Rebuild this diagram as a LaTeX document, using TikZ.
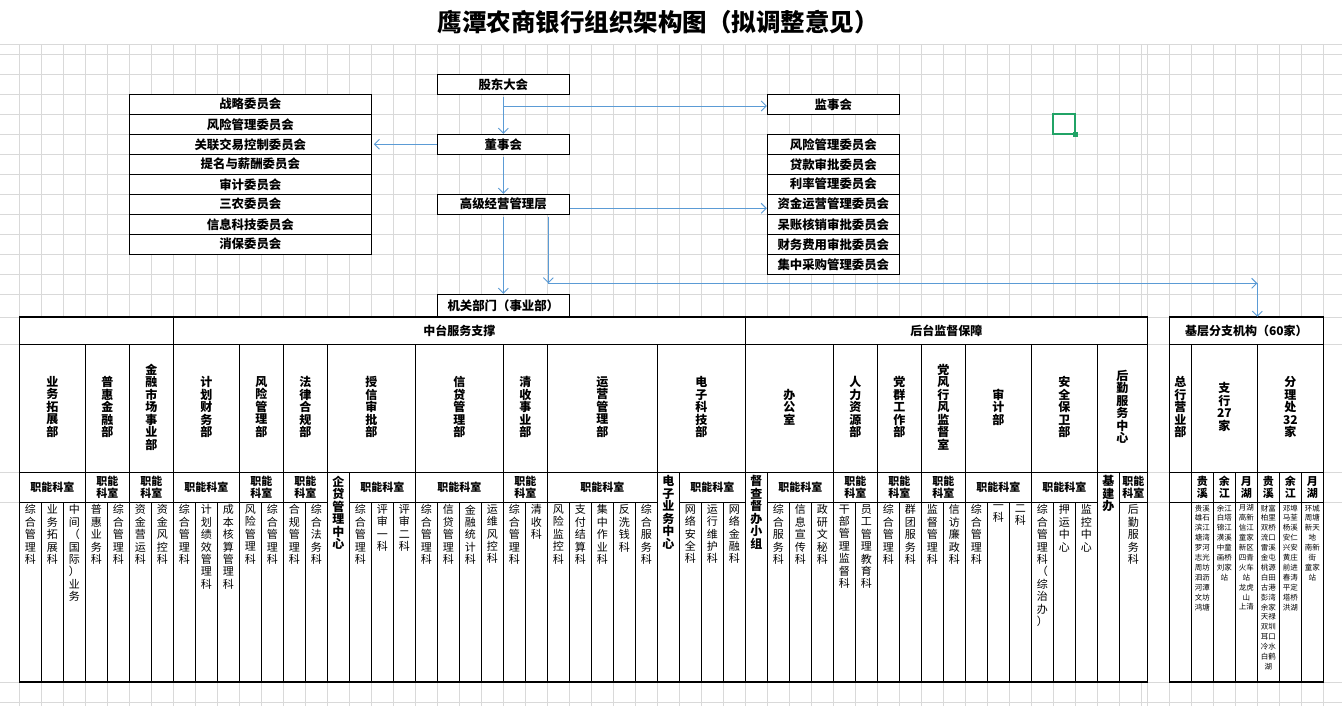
\documentclass[tikz,border=0pt]{standalone}
\usepackage{fontspec}
\setmainfont{Noto Sans CJK SC}
\usetikzlibrary{arrows.meta}
\definecolor{gridc}{HTML}{D9D9D9}
\definecolor{arrowblue}{HTML}{5B9BD5}
\definecolor{xlgreen}{HTML}{21A366}
\def\vtstopmark{\vtend}
\def\vtA#1{\def\vttmp{#1}\ifx\vttmp\vtstopmark\else#1\expandafter\vtB\fi}
\def\vtB#1{\def\vttmp{#1}\ifx\vttmp\vtstopmark\else\\#1\expandafter\vtB\fi}
\newcommand\vt[1]{\vtA#1\vtend}
\newcommand\vtx[1]{\expandafter\vtA#1\vtend}
\tikzset{
 boxst/.style={draw=black,line width=1pt,fill=white,inner sep=0pt,font=\bfseries\fontsize{12.4}{14}\selectfont},
 arr/.style={draw=arrowblue,line width=0.9pt,-{Straight Barb[length=5pt,width=10pt]}},
 tl/.style={draw=black,line width=1.1pt},
 gl/.style={draw=gridc,line width=0.8pt},
 dept/.style={align=center,inner sep=0pt,font=\bfseries\fontsize{12}{12.5}\selectfont},
 fn/.style={align=center,inner sep=0pt,font=\bfseries\fontsize{11}{12}\selectfont},
 sec/.style={align=center,inner sep=0pt,anchor=north,font=\fontsize{11}{12.4}\selectfont},
 brsmall/.style={align=center,inner sep=0pt,anchor=north,font=\fontsize{7.5}{9.9}\selectfont},
 hdr/.style={inner sep=0pt,font=\bfseries\fontsize{12}{14}\selectfont},
}
\begin{document}
\begin{tikzpicture}[x=1pt,y=-1pt]
\useasboundingbox (0,0) rectangle (1342,706);
\fill[white] (0,0) rectangle (1342,706);
% ---------- spreadsheet grid ----------
\foreach \k in {0,...,52} \draw[gl] ({-2.7+22*\k},44.3) -- ({-2.7+22*\k},706);
\draw[gl] (1147.3,44.3) -- (1147.3,706);
\foreach \k in {0,...,8} \draw[gl] ({1169.3+22*\k},44.3) -- ({1169.3+22*\k},706);
\foreach \y in {44.3,54.3,317,344.3,472.7,502.3,682,702} \draw[gl] (0,\y) -- (1342,\y);
\foreach \k in {0,...,11} \draw[gl] (0,{74.3+20*\k}) -- (1342,{74.3+20*\k});
% ---------- title ----------
\node[font=\bfseries\fontsize{24.5}{27}\selectfont] (title) at (658,22) {鹰潭农商银行组织架构图（拟调整意见）};
% ---------- excel selection ----------
\draw[xlgreen,line width=2pt] (1053.3,114.3) rectangle (1075.3,134.3);
\fill[xlgreen] (1072.8,131.8) rectangle (1077.8,136.8);
% ---------- flow boxes ----------
\node[boxst,minimum width=132pt,minimum height=20pt] (gd) at (503.3,84.3) {股东大会};
\node[boxst,minimum width=132pt,minimum height=20pt] (ds) at (503.3,144.3) {董事会};
\node[boxst,minimum width=132pt,minimum height=20pt] (gj) at (503.3,204.3) {高级经营管理层};
\node[boxst,minimum width=132pt,minimum height=22.7pt] (jg) at (503.3,305.65) {机关部门（事业部）};
\node[boxst,minimum width=132pt,minimum height=20pt] (js) at (833.3,104.3) {监事会};
\foreach \t [count=\i from 0] in {战略委员会,风险管理委员会,关联交易控制委员会,提名与薪酬委员会,审计委员会,三农委员会,信息科技委员会,消保委员会}
  \node[boxst,minimum width=242pt,minimum height=20pt] (lc\i) at (250.3,{104.3+20*\i}) {\t};
\foreach \t [count=\i from 0] in {风险管理委员会,贷款审批委员会,利率管理委员会,资金运营管理委员会,呆账核销审批委员会,财务费用审批委员会,集中采购管理委员会}
  \node[boxst,minimum width=132pt,minimum height=20pt] (rc\i) at (833.3,{144.3+20*\i}) {\t};
% ---------- main table ----------
\fill[white] (19.3,317) rectangle (1147.3,682);
\fill[white] (1169.3,317) rectangle (1323.3,682);
\draw[tl] (19.3,317) rectangle (1147.3,682);
\draw[tl] (19.3,344.3) -- (1147.3,344.3);
\draw[tl] (19.3,472.7) -- (1147.3,472.7);
\draw[tl] (19.3,502.3) -- (327.3,502.3) (349.3,502.3) -- (657.3,502.3) (679.3,502.3) -- (745.3,502.3) (767.3,502.3) -- (1097.3,502.3) (1119.3,502.3) -- (1147.3,502.3);
\draw[tl] (173.3,317) -- (173.3,344.3) (745.3,317) -- (745.3,344.3);
\foreach \x in {85.3,129.3,173.3,239.3,283.3,327.3,415.3,503.3,547.3,657.3,745.3,833.3,877.3,921.3,965.3,1031.3,1097.3}
  \draw[tl] (\x,344.3) -- (\x,682);
\foreach \x in {349.3,679.3,767.3,1119.3} \draw[tl] (\x,472.7) -- (\x,682);
\foreach \k in {1,...,50} \draw[tl] ({19.3+22*\k},502.3) -- ({19.3+22*\k},682);
% headers
\node[hdr] (mid) at (459.3,330.7) {中台服务支撑};
\node[hdr] (back) at (946.3,330.7) {后台监督保障};
% department names
\foreach \x/\t in {52.3/业务拓展部,107.3/普惠金融部,151.3/金融市场事业部,206.3/计划财务部,261.3/风险管理部,305.3/法律合规部,371.3/授信审批部,459.3/信贷管理部,525.3/清收事业部,602.3/运营管理部,701.3/电子科技部,789.3/办公室,855.3/人力资源部,899.3/党群工作部,943.3/党风行风监督室,998.3/审计部,1064.3/安全保卫部,1122.3/后勤服务中心}
  \node[dept] at (\x,407) {\vtx{\t}};
% 职能科室 row
\foreach \x in {52.3,206.3,382.3,459.3,602.3,712.3,800.3,998.3,1064.3}
  \node[fn] at (\x,487.5) {职能科室};
\foreach \x in {107.3,151.3,261.3,305.3,525.3,855.3,899.3,943.3,1133.3}
  \node[fn] at (\x,487.5) {职能\\科室};
\foreach \x/\t in {338.3/企贷管理中心,668.3/电子业务中心,756.3/督查督办小组,1108.3/基建办}
  \node[dept,anchor=north] at (\x,475.5) {\vtx{\t}};
% sections
\foreach \c/\t in {0/综合管理科,1/业务拓展科,2/中间（国际）业务,3/普惠业务科,4/综合管理科,5/资金营运科,6/资金风控科,7/综合管理科,8/计划绩效管理科,9/成本核算管理科,10/风险管理科,11/综合管理科,12/合规管理科,13/综合法务科,15/综合管理科,16/评审一科,17/评审二科,18/综合管理科,19/信贷管理科,20/金融统计科,21/运维风控科,22/综合管理科,23/清收科,24/风险监控科,25/支付结算科,26/集中作业科,27/反洗钱科,28/综合服务科,30/网络安全科,31/运行维护科,32/网络金融科,34/综合服务科,35/信息宣传科,36/政研文秘科,37/干部管理监督科,38/员工管理教育科,39/综合管理科,40/群团服务科,41/监督管理科,42/信访廉政科,43/综合管理科,44/一科,45/二科,46/综合管理科（综治办）,47/押运中心,48/监控中心}
  \node[sec] at ({30.3+22*\c},504.5) {\vtx{\t}};
\node[sec] at (1133.3,504.5) {\vt{后勤服务科}};
% ---------- branch table ----------
\draw[tl] (1169.3,317) rectangle (1323.3,682);
\draw[tl] (1169.3,344.3) -- (1323.3,344.3) (1169.3,472.7) -- (1323.3,472.7) (1169.3,502.3) -- (1323.3,502.3);
\foreach \x in {1191.3,1257.3} \draw[tl] (\x,344.3) -- (\x,682);
\foreach \x in {1213.3,1235.3,1279.3,1301.3} \draw[tl] (\x,472.7) -- (\x,682);
\node[hdr,minimum width=154pt,minimum height=27.3pt] (base) at (1246.3,330.65) {基层分支机构（60家）};
\node[dept] at (1180.3,407) {\vt{总行营业部}};
\node[dept] at (1224.3,407) {\vt{支行{27}家}};
\node[dept] at (1290.3,407) {\vt{分理处{32}家}};
\foreach \x/\t in {1202.3/贵溪,1224.3/余江,1246.3/月湖,1268.3/贵溪,1290.3/余江,1312.3/月湖}
  \node[fn] at (\x,487.5) {\vtx{\t}};
\node[brsmall] at (1202.3,504.5) {贵溪\\雄石\\滨江\\塘湾\\罗河\\志光\\周坊\\泗沥\\河潭\\文坊\\鸿塘};
\node[brsmall] at (1224.3,504.5) {余江\\白塔\\锦江\\潢溪\\中童\\画桥\\刘家\\站};
\node[brsmall] at (1246.3,504.5) {月湖\\高新\\信江\\童家\\新区\\四青\\火车\\站\\龙虎\\山\\上清};
\node[brsmall] at (1268.3,504.5) {财富\\柏里\\双桥\\流口\\雷溪\\金屯\\桃源\\白田\\古港\\彭湾\\余家\\天禄\\双圳\\耳口\\冷水\\白鹤\\湖};
\node[brsmall] at (1290.3,504.5) {邓埠\\马荃\\杨溪\\安仁\\兴安\\黄庄\\前进\\春涛\\平定\\塔桥\\洪湖};
\node[brsmall] at (1312.3,504.5) {环城\\周塘\\新天\\地\\南新\\街\\童家\\站};
% ---------- connectors ----------
\coordinate (j1) at (503.3,106);
\coordinate (k1) at (548.3,283.3);
\coordinate (k2) at (1257.3,283.3);
\draw[arr,shorten <=2pt] (gd.south) -- (ds.north);
\draw[arr] (j1) -- (j1 -| js.west);
\draw[arr,shorten >=2pt] (ds.west) -- (lc2.east);
\draw[arr,shorten <=2pt] (ds.south) -- (gj.north);
\draw[arr] ([yshift=-4pt]gj.east) -- ([yshift=-4pt]rc3.west);
\draw[arr,shorten <=2pt] (gj.south) -- (jg.north);
\draw[arr,shorten <=2pt] (gj.south -| k1) -- (k1);
\draw[arr] (k1) -- (k2);
\draw[arr] (k2) -- (k2 |- base.north);
\end{tikzpicture}
\end{document}
